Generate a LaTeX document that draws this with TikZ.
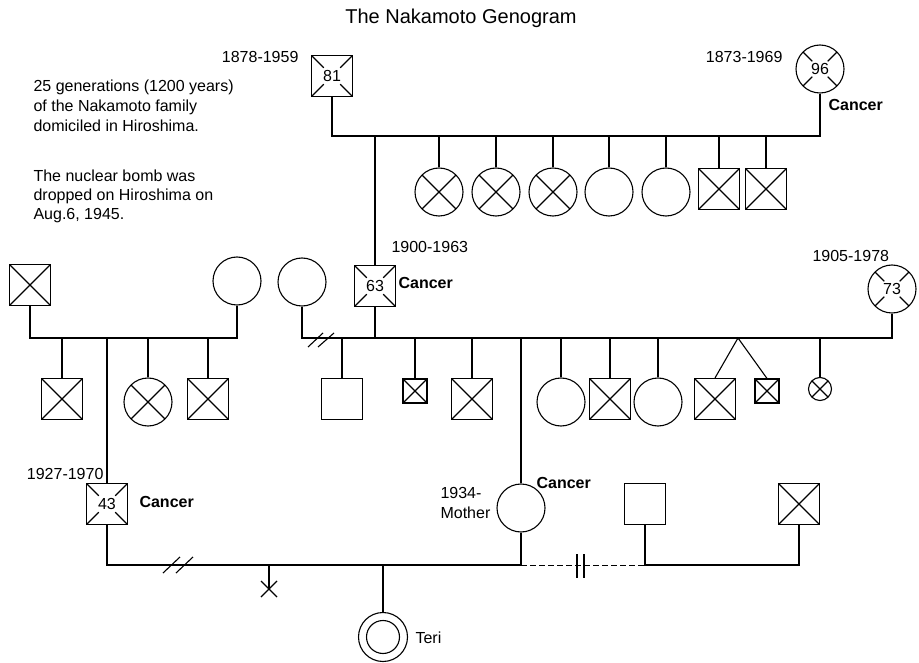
\documentclass[tikz,border=0pt]{standalone}
\usepackage{fontspec}
\setmainfont{Liberation Sans}
\usetikzlibrary{calc}
\begin{document}
\begin{tikzpicture}[x=1pt,y=-1pt,line width=1.1pt,
  every node/.style={inner sep=0pt},
  base/.style={draw,line width=1.1pt,font=\fontsize{16}{19}\selectfont},
  sq/.style={base,rectangle,minimum size=41pt},
  smsq/.style={base,rectangle,minimum size=24pt},
  ci/.style={base,circle,minimum size=48pt},
  smci/.style={base,circle,minimum size=23pt},
  xed/.style={path picture={\draw[line width=1.1pt]
     (path picture bounding box.north west) -- (path picture bounding box.south east)
     (path picture bounding box.north east) -- (path picture bounding box.south west);}},
  dying/.style={path picture={\foreach \cc in {north west,north east,south west,south east}{%
     \draw[line width=1.1pt] (path picture bounding box.\cc) --
     ($(path picture bounding box.\cc)!#1!(path picture bounding box.center)$);}}},
  lbl/.style={font=\fontsize{16}{19}\selectfont},
  can/.style={font=\fontsize{16}{19}\selectfont\bfseries},
]
\useasboundingbox (0,0) rectangle (919,663);

% title
\node[font=\fontsize{20}{24}\selectfont] (title) at (461,18) {The Nakamoto Genogram};

% notes
\node[lbl,anchor=base west] (t1) at (33,92) {25 generations (1200 years)};
\node[lbl,anchor=base west] (t2) at (33,112) {of the Nakamoto family};
\node[lbl,anchor=base west] (t3) at (33,132) {domiciled in Hiroshima.};
\node[lbl,anchor=base west] (t4) at (33,182) {The nuclear bomb was};
\node[lbl,anchor=base west] (t5) at (33,201) {dropped on Hiroshima on};
\node[lbl,anchor=base west] (t6) at (33,220) {Aug.6, 1945.};

% generation 1
\node[sq,dying=0.6] (gf) at (332,76) {81};
\node[ci,dying=0.68] (gm) at (820,69) {96};
\node[lbl,anchor=base east] (gfd) at (299,63) {1878-1959};
\node[lbl,anchor=base east] (gmd) at (783,63) {1873-1969};
\node[can,anchor=base west] (gmc) at (828,111) {Cancer};

\coordinate (g1) at (0,136);
\node[ci,xed] (a1) at (439,192) {};
\node[ci,xed] (a2) at (496,192) {};
\node[ci,xed] (a3) at (553,192) {};
\node[ci] (a4) at (609,192) {};
\node[ci] (a5) at (666,192) {};
\node[sq,xed] (a6) at (719,189) {};
\node[sq,xed] (a7) at (766,189) {};

% generation 2
\node[sq,dying=0.6] (fa) at (375,286) {63};
\node[ci] (w1) at (302,282) {};
\node[ci,dying=0.68] (w2) at (892,289) {73};
\node[lbl,anchor=base west] (fad) at (391,253) {1900-1963};
\node[can,anchor=base west] (fac) at (398,289) {Cancer};
\node[lbl,anchor=base west] (w2d) at (812,262) {1905-1978};

\draw (gf.south) -- (gf.south |- g1) -- (gm.south |- g1) -- (gm.south);
\foreach \n in {a1,a2,a3,a4,a5,a6,a7} \draw (\n.north) -- (\n.north |- g1);
\draw (fa.north) -- (fa.north |- g1);

\coordinate (g2) at (0,338);
\node[sq] (b1) at (342,399) {};
\node[smsq,xed] (b2) at (415,391) {};
\node[sq,xed] (b3) at (472,399) {};
\node[ci] (b4) at (561,402) {};
\node[sq,xed] (b5) at (610,399) {};
\node[ci] (b6) at (658,402) {};
\node[sq,xed] (b7) at (715,399) {};
\node[smsq,xed] (b8) at (767,391) {};
\node[smci,xed] (b9) at (820,389) {};
\coordinate (tw) at (738,338);

\draw (w1.south) -- (w1.south |- g2) -- (w2.south |- g2) -- (w2.south);
\draw (fa.south) -- (fa.south |- g2);
\foreach \n in {b1,b2,b3,b4,b5,b6,b9} \draw (\n.north) -- (\n.north |- g2);
\draw (b7.north) -- (tw) -- (b8.north);
\draw (308,347) -- (323,333) (318,347) -- (334,333);

% left family
\node[sq,xed] (lf) at (30,285) {};
\node[ci] (lm) at (237,281) {};
\node[sq,xed] (c1) at (62,399) {};
\node[ci,xed] (c2) at (148,402) {};
\node[sq,xed] (c3) at (208,399) {};
\node[sq,dying=0.6] (h) at (107,504) {43};
\node[lbl,anchor=base east] (hd) at (104,479) {1927-1970};
\node[can,anchor=base west] (hc) at (139,507) {Cancer};
\draw (lf.south) -- (lf.south |- g2) -- (lm.south |- g2) -- (lm.south);
\foreach \n in {c1,c2,c3} \draw (\n.north) -- (\n.north |- g2);
\draw (h.north) -- (h.north |- g2);

% mother
\node[ci] (mo) at (521,508) {};
\node[lbl,anchor=base west] (mod1) at (440,498) {1934-};
\node[lbl,anchor=base west] (mod2) at (440,518) {Mother};
\node[can,anchor=base west] (moc) at (536,488) {Cancer};
\draw (mo.north) -- (mo.north |- g2);

% generation 3
\coordinate (g4) at (0,565);
\node[base,circle,minimum size=49pt] (teri) at (383,637) {};
\draw (teri.center) circle (16.5);
\node[lbl,anchor=west] (terit) at (415,638) {Teri};
\coordinate (xm) at (269,589);
\node[sq] (p2) at (645,504) {};
\node[sq,xed] (p3) at (799,504) {};

\draw (h.south) -- (h.south |- g4) -- (mo.south |- g4) -- (mo.south);
\draw (teri.north) -- (teri.north |- g4);
\draw (xm) -- (xm |- g4);
\draw (xm) +(-8,-8) -- +(8,8) (xm) +(8,-8) -- +(-8,8);
\draw (163,573) -- (180,557) (176,573) -- (193,557);
\draw[line width=1pt,dash pattern=on 6pt off 3pt] (mo.south |- g4) -- (p2.south |- g4);
\draw (577,554) -- (577,578) (584,554) -- (584,578);
\draw (p2.south) -- (p2.south |- g4) -- (p3.south |- g4) -- (p3.south);
\end{tikzpicture}
\end{document}
